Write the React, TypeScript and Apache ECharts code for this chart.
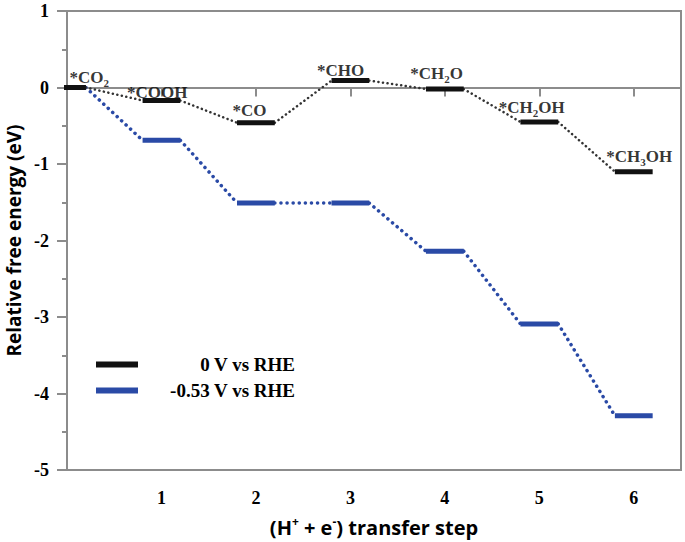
import React, { useEffect, useRef } from "react";
import * as echarts from "echarts";

const steps = [0, 1, 2, 3, 4, 5, 6];
const intermediates = ["*CO2", "*COOH", "*CO", "*CHO", "*CH2O", "*CH2OH", "*CH3OH"];
const energy0V = [0, -0.17, -0.46, 0.09, -0.02, -0.45, -1.1];
const energyNeg053 = [0, -0.69, -1.51, -1.51, -2.14, -3.09, -4.29];
const xTickValues = [0, 1, 2, 3, 4, 5, 6];
const seriesNames = ["0 V vs RHE", "-0.53 V vs RHE"];

const BLACK = "#111111";
const BLUE = "#2a4aa6";
const GRAY = "#8c8c8c";
const SERIF = '"Liberation Serif", "Times New Roman", serif';
const SANS = '"Open Sans", "Noto Sans", sans-serif';
const HALF = 0.2;

// label placement (px): left edge and vertical centre relative to each level's centre point
const labelPlacement = [
  [3, -10],
  [-34, -8],
  [-23, -12],
  [-33, -10],
  [-34, -15],
  [-40, -14],
  [-27, -15],
];

function levelData(e: number[]) {
  const out: any[] = [];
  steps.forEach((s, i) => {
    out.push([s - HALF, e[i]], [s + HALF, e[i]], ["-", "-"]);
  });
  return out;
}
function connectorData(e: number[]) {
  const out: any[] = [];
  for (let i = 0; i < steps.length - 1; i++) {
    out.push([steps[i] + HALF, e[i]], [steps[i + 1] - HALF, e[i + 1]], ["-", "-"]);
  }
  return out;
}
function richName(n: string) {
  return "{a|" + n.replace(/(\d)/g, "}{s|$1}{a|") + "}";
}

export default function App() {
  const ref = useRef<HTMLDivElement>(null);
  useEffect(() => {
    if (!ref.current) return;
    const chart = echarts.init(ref.current, null, { renderer: "svg" });
    const option: any = {
      animation: false,
      backgroundColor: "#ffffff",
      grid: {
        left: 67,
        right: 4,
        top: 11,
        bottom: 72,
        show: true,
        borderColor: GRAY,
        borderWidth: 2,
        backgroundColor: "transparent",
        outerBoundsMode: "none",
        containLabel: false,
      },
      legend: {
        left: 91,
        top: 350,
        orient: "vertical",
        icon: "rect",
        itemWidth: 42,
        itemHeight: 6,
        itemGap: 7,
        data: [
          { name: seriesNames[0], itemStyle: { color: BLACK } },
          { name: seriesNames[1], itemStyle: { color: BLUE } },
        ],
        formatter: (n: string) => "{t|" + n + "}",
        textStyle: {
          rich: {
            t: {
              width: 152,
              align: "right",
              fontFamily: SERIF,
              fontWeight: "bold",
              fontSize: 19,
              color: "#000",
              lineHeight: 21,
            },
          },
        },
      },
      xAxis: {
        type: "value",
        min: 0,
        max: 6.5,
        interval: 1,
        splitLine: { show: false },
        axisLine: { show: true, lineStyle: { color: GRAY, width: 2 } },
        axisTick: {
          show: true,
          customValues: xTickValues,
          length: 9,
          lineStyle: { color: GRAY, width: 2 },
        },
        axisLabel: {
          customValues: xTickValues,
          formatter: (v: number) => (v === 0 ? "" : String(v)),
          fontFamily: SERIF,
          fontWeight: "bold",
          fontSize: 18,
          color: "#000",
          margin: 19,
        },
        name: "{a|(H}{p|+}{a| + e}{p|-}{a|) transfer step}",
        nameLocation: "middle",
        nameGap: 45,
        nameTextStyle: {
          rich: {
            a: { fontFamily: SANS, fontWeight: "bold", fontSize: 20, color: "#000", lineHeight: 24 },
            p: {
              fontFamily: SANS,
              fontWeight: "bold",
              fontSize: 12,
              color: "#000",
              lineHeight: 24,
              verticalAlign: "top",
            },
          },
        },
      },
      yAxis: {
        type: "value",
        min: -5,
        max: 1,
        interval: 1,
        splitLine: { show: false },
        axisLine: { show: true, lineStyle: { color: GRAY, width: 2 } },
        axisTick: { show: true, length: 10, lineStyle: { color: GRAY, width: 2 } },
        minorTick: { show: true, splitNumber: 2, length: 5, lineStyle: { color: GRAY, width: 2 } },
        axisLabel: {
          fontFamily: SERIF,
          fontWeight: "bold",
          fontSize: 18,
          color: "#000",
          margin: 18,
        },
        name: "Relative free energy (eV)",
        nameLocation: "middle",
        nameGap: 44,
        nameTextStyle: { fontFamily: SANS, fontWeight: "bold", fontSize: 19, color: "#000" },
      },
      series: [
        {
          name: seriesNames[1],
          type: "line",
          color: BLUE,
          data: connectorData(energyNeg053),
          symbol: "none",
          connectNulls: false,
          lineStyle: { color: BLUE, width: 3.5, type: [0.1, 6], cap: "round" },
          z: 2,
        },
        {
          name: seriesNames[1],
          type: "line",
          color: BLUE,
          data: levelData(energyNeg053),
          symbol: "none",
          connectNulls: false,
          lineStyle: { color: BLUE, width: 5 },
          z: 3,
        },
        {
          name: seriesNames[0],
          type: "line",
          color: BLACK,
          data: connectorData(energy0V),
          symbol: "none",
          connectNulls: false,
          lineStyle: { color: "#333", width: 2.5, type: [0.1, 4.5], cap: "round" },
          z: 4,
        },
        {
          name: seriesNames[0],
          type: "line",
          color: BLACK,
          data: levelData(energy0V),
          symbol: "none",
          connectNulls: false,
          lineStyle: { color: BLACK, width: 5 },
          z: 5,
        },
        {
          name: "labels",
          type: "scatter",
          symbolSize: 1,
          itemStyle: { color: "rgba(0,0,0,0)" },
          silent: true,
          z: 6,
          data: steps.map((s, i) => ({
            value: [s, energy0V[i]],
            name: intermediates[i],
            label: { position: labelPlacement[i] },
          })),
          label: {
            show: true,
            align: "left",
            verticalAlign: "middle",
            formatter: (p: any) => richName(p.name),
            rich: {
              a: { fontFamily: SERIF, fontWeight: "bold", fontSize: 17, color: "#000", lineHeight: 20 },
              s: {
                fontFamily: SERIF,
                fontWeight: "bold",
                fontSize: 11,
                color: "#000",
                lineHeight: 22,
                verticalAlign: "bottom",
              },
            },
          },
        },
      ],
    };
    chart.setOption(option);
    return () => chart.dispose();
  }, []);
  return (
    <div
      ref={ref}
      style={{ position: "fixed", left: 0, top: 0, width: 685, height: 542, background: "#fff" }}
    />
  );
}
